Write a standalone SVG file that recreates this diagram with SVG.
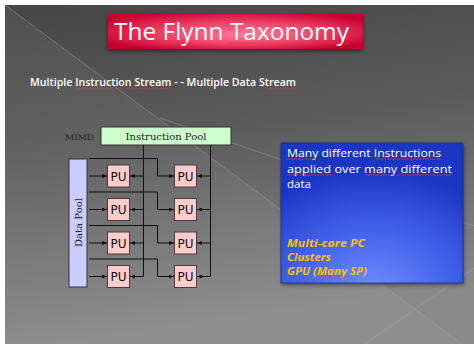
<svg xmlns="http://www.w3.org/2000/svg" width="474" height="344" viewBox="0 0 474 344">
<style>
.pu rect{fill:#ffcccc;stroke:#4a3a3a;stroke-width:1}
.pu text{font-family:"DejaVu Sans","Liberation Sans",sans-serif;font-size:12px;fill:#111;text-anchor:middle}
.serif{font-family:"DejaVu Serif","Liberation Serif",serif;fill:#222}
.conn path{fill:none;stroke:#111;stroke-width:1}
.arr{marker-end:url(#ah)}
.bt{font-family:"Open Sans","DejaVu Sans",sans-serif;font-size:11.5px;fill:#fff}
.yt{font-family:"Open Sans","DejaVu Sans",sans-serif;font-size:11px;font-weight:bold;font-style:italic;fill:#ffc000}
.sq{fill:url(#sq)}
.bgl{stroke:#a8a8a8;stroke-width:0.8;fill:none;opacity:0.55}
</style>
<defs>
<linearGradient id="bg" x1="0" y1="0" x2="0.2" y2="1">
<stop offset="0" stop-color="#464646"/>
<stop offset="0.45" stop-color="#5c5c5c"/>
<stop offset="1" stop-color="#8a8a8a"/>
</linearGradient>
<radialGradient id="tg" cx="0.5" cy="0.5" r="0.6" fx="0.55" fy="0.6">
<stop offset="0" stop-color="#ff7a98"/>
<stop offset="0.5" stop-color="#f04468"/>
<stop offset="1" stop-color="#c8002e"/>
</radialGradient>
<radialGradient id="blg" cx="0.5" cy="1.05" r="0.85">
<stop offset="0" stop-color="#6d8dff"/>
<stop offset="0.55" stop-color="#3f5fe8"/>
<stop offset="1" stop-color="#1c36c4"/>
</radialGradient>
<filter id="sh" x="-10%" y="-20%" width="120%" height="150%">
<feGaussianBlur stdDeviation="2"/>
</filter>
<marker id="ah" markerWidth="5" markerHeight="4" refX="5" refY="2" orient="auto" markerUnits="userSpaceOnUse">
<path d="M0,0 L5,2 L0,4 Z" fill="#111"/>
</marker>
<pattern id="sq" width="3" height="2" patternUnits="userSpaceOnUse">
<path d="M0,1.6 L1.5,0.4 L3,1.6" stroke="#e8323c" stroke-width="0.7" fill="none"/>
</pattern>
</defs>

<!-- page & background -->
<rect width="474" height="344" fill="#ffffff"/>
<rect x="5" y="5" width="469" height="339" fill="url(#bg)"/>
<polygon points="5,5 462,344 5,344" fill="#ffffff" opacity="0.05"/>
<line class="bgl" x1="5" y1="5" x2="462" y2="344"/>
<line class="bgl" x1="160" y1="118" x2="474" y2="226"/>
<line class="bgl" x1="474" y1="268" x2="365" y2="344"/>

<!-- title -->
<g id="title">
<rect x="108" y="16" width="255" height="35" fill="#000" opacity="0.5" filter="url(#sh)"/>
<rect x="108" y="14" width="255" height="35" fill="url(#tg)"/>
<text x="114" y="39.5" font-family="Open Sans, DejaVu Sans, sans-serif" font-size="24" fill="#fff" textLength="235" lengthAdjust="spacingAndGlyphs">The Flynn Taxonomy</text>
<rect class="sq" x="162" y="42" width="33" height="2"/>
<rect class="sq" x="228" y="42" width="121" height="2"/>
</g>

<!-- subtitle -->
<g id="subtitle">
<text x="30" y="86" font-family="Open Sans, DejaVu Sans, sans-serif" font-size="11.5" font-weight="600" fill="#fff" textLength="266" lengthAdjust="spacingAndGlyphs">Multiple Instruction Stream - - Multiple Data Stream</text>
<rect class="sq" x="75" y="87.5" width="36" height="2"/>
<rect class="sq" x="115" y="87.5" width="52" height="2"/>
<rect class="sq" x="268" y="87.5" width="28" height="2"/>
</g>

<!-- diagram -->
<g id="mimd-label">
<text class="serif" x="65" y="139.5" font-size="7.5" textLength="29" lengthAdjust="spacingAndGlyphs">MIMD</text>
</g>
<g id="instruction-pool">
<rect x="101" y="127" width="130" height="18" fill="#ccffcc" stroke="#333" stroke-width="1"/>
<text class="serif" x="166" y="139.5" font-size="9.5" text-anchor="middle" textLength="81" lengthAdjust="spacingAndGlyphs">Instruction Pool</text>
</g>
<g id="data-pool">
<rect x="69" y="159" width="18" height="128" fill="#ccccff" stroke="#333" stroke-width="1"/>
<text class="serif" transform="translate(81.5,222.5) rotate(-90)" x="0" y="0" font-size="9.5" text-anchor="middle" textLength="49" lengthAdjust="spacingAndGlyphs">Data Pool</text>
</g>

<g id="pu-1-1" class="pu"><rect x="107.5" y="165" width="22" height="22"/><text x="118.5" y="180.5">PU</text></g>
<g id="pu-1-2" class="pu"><rect x="107.5" y="198.5" width="22" height="22"/><text x="118.5" y="214">PU</text></g>
<g id="pu-1-3" class="pu"><rect x="107.5" y="232" width="22" height="22"/><text x="118.5" y="247.5">PU</text></g>
<g id="pu-1-4" class="pu"><rect x="107.5" y="265.5" width="22" height="22"/><text x="118.5" y="281">PU</text></g>
<g id="pu-2-1" class="pu"><rect x="174.5" y="165" width="22" height="22"/><text x="185.5" y="180.5">PU</text></g>
<g id="pu-2-2" class="pu"><rect x="174.5" y="198.5" width="22" height="22"/><text x="185.5" y="214">PU</text></g>
<g id="pu-2-3" class="pu"><rect x="174.5" y="232" width="22" height="22"/><text x="185.5" y="247.5">PU</text></g>
<g id="pu-2-4" class="pu"><rect x="174.5" y="265.5" width="22" height="22"/><text x="185.5" y="281">PU</text></g>

<g id="connectors" class="conn">
<!-- instruction buses -->
<path d="M143.5,145 V276.5 H130"  class="arr"/>
<path d="M143.5,176 H130" class="arr"/>
<path d="M143.5,209.5 H130" class="arr"/>
<path d="M143.5,243 H130" class="arr"/>
<path d="M210.5,145 V276.5 H197" class="arr"/>
<path d="M210.5,176 H197" class="arr"/>
<path d="M210.5,209.5 H197" class="arr"/>
<path d="M210.5,243 H197" class="arr"/>
<!-- data lines -->
<path d="M89,176 H107" class="arr"/>
<path d="M89,209.5 H107" class="arr"/>
<path d="M89,243 H107" class="arr"/>
<path d="M89,276.5 H107" class="arr"/>
<path d="M89,158.5 H157.5 V176 H174" class="arr"/>
<path d="M89,192 H157.5 V209.5 H174" class="arr"/>
<path d="M89,225.5 H157.5 V243 H174" class="arr"/>
<path d="M89,259 H157.5 V276.5 H174" class="arr"/>
</g>

<!-- blue text box -->
<g id="mimd-box">
<rect x="282" y="145" width="182" height="140" fill="#000" opacity="0.45" filter="url(#sh)"/>
<rect x="281" y="143" width="182" height="140" fill="url(#blg)" stroke="#1a2c90" stroke-width="0.8"/>
<text class="bt" x="287" y="157" textLength="154" lengthAdjust="spacingAndGlyphs">Many different Instructions</text>
<text class="bt" x="287" y="173" textLength="165" lengthAdjust="spacingAndGlyphs">applied over many different</text>
<text class="bt" x="287" y="188">data</text>
<rect class="sq" x="287" y="158" width="29" height="2"/>
<rect class="sq" x="376" y="158" width="65" height="2"/>
<rect class="sq" x="287" y="174" width="45" height="2"/>
<rect class="sq" x="366" y="174" width="86" height="2"/>
<text class="yt" x="287" y="247" textLength="78" lengthAdjust="spacingAndGlyphs">Multi-core PC</text>
<text class="yt" x="287" y="260.5" textLength="44" lengthAdjust="spacingAndGlyphs">Clusters</text>
<text class="yt" x="287" y="274.5" textLength="80" lengthAdjust="spacingAndGlyphs">GPU (Many SP)</text>
<rect class="sq" x="317" y="275.5" width="33" height="2"/>
</g>
</svg>
